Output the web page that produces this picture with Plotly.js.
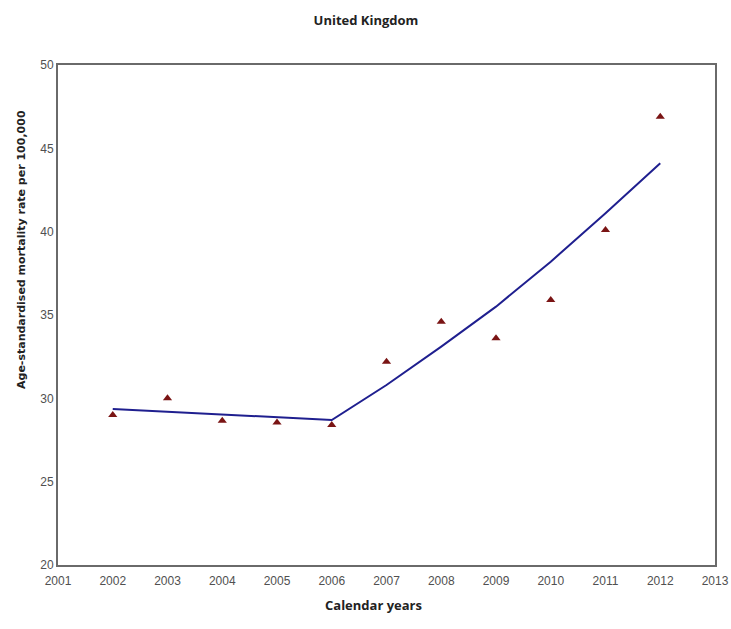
<!DOCTYPE html>
<html>
<head>
<meta charset="utf-8">
<script src="https://cdn.plot.ly/plotly-3.0.1.min.js"></script>
<style>html,body{margin:0;padding:0;background:#fff;}#chart{width:731px;height:629px;}</style>
</head>
<body>
<div id="chart"></div>
<script>
const years = [2002, 2003, 2004, 2005, 2006, 2007, 2008, 2009, 2010, 2011, 2012];
const observedRate = [29.0, 30.0, 28.65, 28.55, 28.4, 32.2, 34.6, 33.6, 35.9, 40.1, 46.9];
const fittedRate = [29.36, 29.2, 29.03, 28.86, 28.7, 30.8, 33.1, 35.5, 38.2, 41.1, 44.1];
const xTicks = [2001, 2002, 2003, 2004, 2005, 2006, 2007, 2008, 2009, 2010, 2011, 2012, 2013];
const yTicks = [20, 25, 30, 35, 40, 45, 50];

const tickFont = {family: 'Liberation Sans Narrow, Liberation Sans, Arial, sans-serif', size: 12, color: '#505050'};

const traces = [
  {
    x: years, y: fittedRate, type: 'scatter', mode: 'lines',
    line: {color: '#1f1f8f', width: 2}, hoverinfo: 'x+y', showlegend: false
  },
  {
    x: years, y: observedRate, type: 'scatter', mode: 'markers',
    marker: {symbol: 'triangle-up', size: 8, color: '#7a1414'}, showlegend: false
  }
];

const layout = {
  width: 731, height: 629,
  margin: {l: 58, r: 16, t: 65, b: 64},
  paper_bgcolor: '#fff', plot_bgcolor: '#fff',
  title: {
    text: 'United Kingdom',
    font: {family: 'Open Sans, sans-serif', size: 13, color: '#222', weight: 'bold'},
    x: 366 / 731, xref: 'container', xanchor: 'center',
    y: 1 - 20 / 629, yref: 'container', yanchor: 'middle'
  },
  xaxis: {
    range: [2001, 2013], tickvals: xTicks, ticktext: xTicks.map(String),
    showgrid: false, zeroline: false,
    showline: true, mirror: true, linecolor: '#6a6a6a', linewidth: 2,
    ticks: '', ticklabelstandoff: 4, tickfont: tickFont
  },
  yaxis: {
    range: [20, 50], tickvals: yTicks, ticktext: yTicks.map(String),
    showgrid: false, zeroline: false,
    showline: true, mirror: true, linecolor: '#6a6a6a', linewidth: 2,
    ticks: '', tickfont: tickFont
  },
  annotations: [
    {
      text: 'Calendar years', xref: 'paper', yref: 'paper',
      x: (373 - 58) / (715 - 58), y: -(605 - 565) / 500, xanchor: 'center', yanchor: 'middle',
      showarrow: false,
      font: {family: 'Open Sans, sans-serif', size: 13, color: '#222', weight: 'bold'}
    },
    {
      text: 'Age-standardised mortality rate per 100,000', xref: 'paper', yref: 'paper',
      x: -(58 - 21) / (715 - 58), y: (565 - 250) / 500, xanchor: 'center', yanchor: 'middle',
      textangle: -90, showarrow: false,
      font: {family: 'DejaVu Sans, sans-serif', size: 11, color: '#222', weight: 'bold'}
    }
  ]
};

Plotly.newPlot('chart', traces, layout, {displayModeBar: false, staticPlot: true});
</script>
</body>
</html>
